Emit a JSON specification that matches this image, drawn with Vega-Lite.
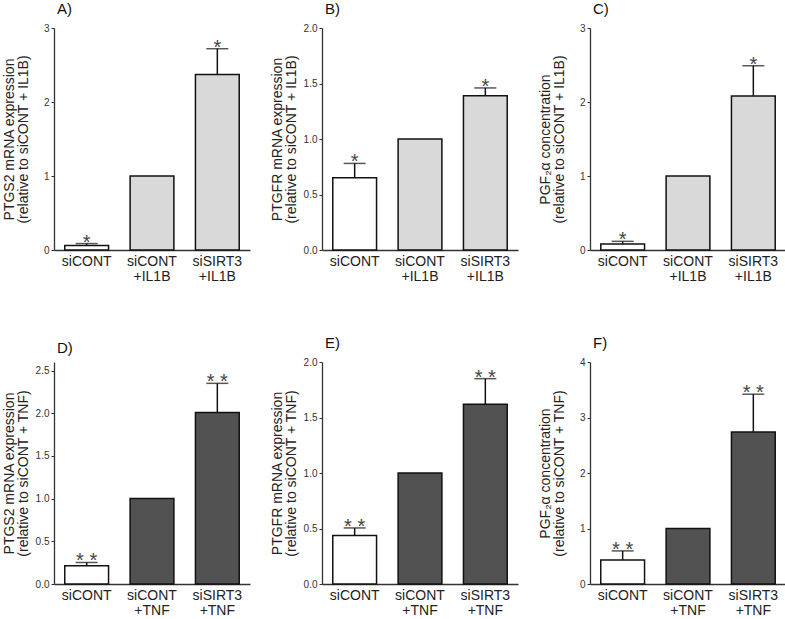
{
  "$schema": "https://vega.github.io/schema/vega-lite/v6.json",
  "padding": {"left": 1, "top": 2, "right": 0, "bottom": 0},
  "data": {"values": [
    {"panel": "A", "group": "siCONT", "cond": "ctrl", "value": 0.06, "err": 0.087, "star": "*"},
    {"panel": "A", "group": "siCONT|+IL1B", "cond": "IL1B", "value": 1.0, "err": null, "star": ""},
    {"panel": "A", "group": "siSIRT3|+IL1B", "cond": "IL1B", "value": 2.37, "err": 2.72, "star": "*"},
    {"panel": "B", "group": "siCONT", "cond": "ctrl", "value": 0.65, "err": 0.78, "star": "*"},
    {"panel": "B", "group": "siCONT|+IL1B", "cond": "IL1B", "value": 1.0, "err": null, "star": ""},
    {"panel": "B", "group": "siSIRT3|+IL1B", "cond": "IL1B", "value": 1.39, "err": 1.46, "star": "*"},
    {"panel": "C", "group": "siCONT", "cond": "ctrl", "value": 0.08, "err": 0.117, "star": "*"},
    {"panel": "C", "group": "siCONT|+IL1B", "cond": "IL1B", "value": 1.0, "err": null, "star": ""},
    {"panel": "C", "group": "siSIRT3|+IL1B", "cond": "IL1B", "value": 2.08, "err": 2.49, "star": "*"},
    {"panel": "D", "group": "siCONT", "cond": "ctrl", "value": 0.215, "err": 0.252, "star": "* *"},
    {"panel": "D", "group": "siCONT|+TNF", "cond": "TNF", "value": 1.0, "err": null, "star": ""},
    {"panel": "D", "group": "siSIRT3|+TNF", "cond": "TNF", "value": 2.01, "err": 2.35, "star": "* *"},
    {"panel": "E", "group": "siCONT", "cond": "ctrl", "value": 0.436, "err": 0.505, "star": "* *"},
    {"panel": "E", "group": "siCONT|+TNF", "cond": "TNF", "value": 1.0, "err": null, "star": ""},
    {"panel": "E", "group": "siSIRT3|+TNF", "cond": "TNF", "value": 1.62, "err": 1.85, "star": "* *"},
    {"panel": "F", "group": "siCONT", "cond": "ctrl", "value": 0.433, "err": 0.596, "star": "* *"},
    {"panel": "F", "group": "siCONT|+TNF", "cond": "TNF", "value": 1.0, "err": null, "star": ""},
    {"panel": "F", "group": "siSIRT3|+TNF", "cond": "TNF", "value": 2.74, "err": 3.42, "star": "* *"}
  ]},
  "columns": 3,
  "spacing": {"row": 53, "column": 19},
  "concat": [
    {
      "title": "A)", "width": 196, "height": 222,
      "transform": [{"filter": "datum.panel == 'A'"}],
      "encoding": {"x": {"field": "group", "type": "nominal", "sort": null, "title": null, "scale": {"paddingInner": 0.33, "paddingOuter": 0.165}, "axis": {"labelExpr": "split(datum.label, '|')", "labelFontSize": 14, "labelLineHeight": 15, "labelPadding": 4, "labelColor": "#222", "labelAngle": 0, "ticks": false}}},
      "layer": [
        {"mark": {"type": "bar", "stroke": "#111", "strokeWidth": 1.5},
         "encoding": {"y": {"field": "value", "type": "quantitative", "scale": {"domain": [0, 3]}, "axis": {"values": [0, 1, 2, 3], "format": "d"}, "title": ["PTGS2 mRNA expression", "(relative to siCONT + IL1B)"]},
           "fill": {"field": "cond", "type": "nominal", "scale": {"domain": ["ctrl", "IL1B", "TNF"], "range": ["#ffffff", "#d9d9d9", "#525252"]}, "legend": null}}},
        {"transform": [{"filter": "datum.err != null"}], "mark": {"type": "rule", "color": "#111", "strokeWidth": 1.5}, "encoding": {"y": {"field": "value", "type": "quantitative"}, "y2": {"field": "err"}}},
        {"transform": [{"filter": "datum.err != null"}], "mark": {"type": "tick", "color": "#111", "thickness": 1.5, "size": 22}, "encoding": {"y": {"field": "err", "type": "quantitative"}}},
        {"transform": [{"filter": "datum.err != null"}], "mark": {"type": "text", "fontSize": 20, "color": "#444", "baseline": "alphabetic", "dy": 5}, "encoding": {"y": {"field": "err", "type": "quantitative"}, "text": {"field": "star"}}}
      ]
    },
    {
      "title": "B)", "width": 196, "height": 222,
      "transform": [{"filter": "datum.panel == 'B'"}],
      "encoding": {"x": {"field": "group", "type": "nominal", "sort": null, "title": null, "scale": {"paddingInner": 0.33, "paddingOuter": 0.165}, "axis": {"labelExpr": "split(datum.label, '|')", "labelFontSize": 14, "labelLineHeight": 15, "labelPadding": 4, "labelColor": "#222", "labelAngle": 0, "ticks": false}}},
      "layer": [
        {"mark": {"type": "bar", "stroke": "#111", "strokeWidth": 1.5},
         "encoding": {"y": {"field": "value", "type": "quantitative", "scale": {"domain": [0, 2]}, "axis": {"values": [0, 0.5, 1, 1.5, 2], "format": ".1f"}, "title": ["PTGFR mRNA expression", "(relative to siCONT + IL1B)"]},
           "fill": {"field": "cond", "type": "nominal", "scale": {"domain": ["ctrl", "IL1B", "TNF"], "range": ["#ffffff", "#d9d9d9", "#525252"]}, "legend": null}}},
        {"transform": [{"filter": "datum.err != null"}], "mark": {"type": "rule", "color": "#111", "strokeWidth": 1.5}, "encoding": {"y": {"field": "value", "type": "quantitative"}, "y2": {"field": "err"}}},
        {"transform": [{"filter": "datum.err != null"}], "mark": {"type": "tick", "color": "#111", "thickness": 1.5, "size": 22}, "encoding": {"y": {"field": "err", "type": "quantitative"}}},
        {"transform": [{"filter": "datum.err != null"}], "mark": {"type": "text", "fontSize": 20, "color": "#444", "baseline": "alphabetic", "dy": 5}, "encoding": {"y": {"field": "err", "type": "quantitative"}, "text": {"field": "star"}}}
      ]
    },
    {
      "title": "C)", "width": 196, "height": 222,
      "transform": [{"filter": "datum.panel == 'C'"}],
      "encoding": {"x": {"field": "group", "type": "nominal", "sort": null, "title": null, "scale": {"paddingInner": 0.33, "paddingOuter": 0.165}, "axis": {"labelExpr": "split(datum.label, '|')", "labelFontSize": 14, "labelLineHeight": 15, "labelPadding": 4, "labelColor": "#222", "labelAngle": 0, "ticks": false}}},
      "layer": [
        {"mark": {"type": "bar", "stroke": "#111", "strokeWidth": 1.5},
         "encoding": {"y": {"field": "value", "type": "quantitative", "scale": {"domain": [0, 3]}, "axis": {"values": [0, 1, 2, 3], "format": "d"}, "title": ["PGF₂α concentration", "(relative to siCONT + IL1B)"]},
           "fill": {"field": "cond", "type": "nominal", "scale": {"domain": ["ctrl", "IL1B", "TNF"], "range": ["#ffffff", "#d9d9d9", "#525252"]}, "legend": null}}},
        {"transform": [{"filter": "datum.err != null"}], "mark": {"type": "rule", "color": "#111", "strokeWidth": 1.5}, "encoding": {"y": {"field": "value", "type": "quantitative"}, "y2": {"field": "err"}}},
        {"transform": [{"filter": "datum.err != null"}], "mark": {"type": "tick", "color": "#111", "thickness": 1.5, "size": 22}, "encoding": {"y": {"field": "err", "type": "quantitative"}}},
        {"transform": [{"filter": "datum.err != null"}], "mark": {"type": "text", "fontSize": 20, "color": "#444", "baseline": "alphabetic", "dy": 5}, "encoding": {"y": {"field": "err", "type": "quantitative"}, "text": {"field": "star"}}}
      ]
    },
    {
      "title": "D)", "width": 196, "height": 222,
      "transform": [{"filter": "datum.panel == 'D'"}],
      "encoding": {"x": {"field": "group", "type": "nominal", "sort": null, "title": null, "scale": {"paddingInner": 0.33, "paddingOuter": 0.165}, "axis": {"labelExpr": "split(datum.label, '|')", "labelFontSize": 14, "labelLineHeight": 15, "labelPadding": 4, "labelColor": "#222", "labelAngle": 0, "ticks": false}}},
      "layer": [
        {"mark": {"type": "bar", "stroke": "#111", "strokeWidth": 1.5},
         "encoding": {"y": {"field": "value", "type": "quantitative", "scale": {"domain": [0, 2.5]}, "axis": {"values": [0, 0.5, 1, 1.5, 2, 2.5], "format": ".1f"}, "title": ["PTGS2 mRNA expression", "(relative to siCONT + TNF)"]},
           "fill": {"field": "cond", "type": "nominal", "scale": {"domain": ["ctrl", "IL1B", "TNF"], "range": ["#ffffff", "#d9d9d9", "#525252"]}, "legend": null}}},
        {"transform": [{"filter": "datum.err != null"}], "mark": {"type": "rule", "color": "#111", "strokeWidth": 1.5}, "encoding": {"y": {"field": "value", "type": "quantitative"}, "y2": {"field": "err"}}},
        {"transform": [{"filter": "datum.err != null"}], "mark": {"type": "tick", "color": "#111", "thickness": 1.5, "size": 22}, "encoding": {"y": {"field": "err", "type": "quantitative"}}},
        {"transform": [{"filter": "datum.err != null"}], "mark": {"type": "text", "fontSize": 20, "color": "#444", "baseline": "alphabetic", "dy": 5}, "encoding": {"y": {"field": "err", "type": "quantitative"}, "text": {"field": "star"}}}
      ]
    },
    {
      "title": "E)", "width": 196, "height": 222,
      "transform": [{"filter": "datum.panel == 'E'"}],
      "encoding": {"x": {"field": "group", "type": "nominal", "sort": null, "title": null, "scale": {"paddingInner": 0.33, "paddingOuter": 0.165}, "axis": {"labelExpr": "split(datum.label, '|')", "labelFontSize": 14, "labelLineHeight": 15, "labelPadding": 4, "labelColor": "#222", "labelAngle": 0, "ticks": false}}},
      "layer": [
        {"mark": {"type": "bar", "stroke": "#111", "strokeWidth": 1.5},
         "encoding": {"y": {"field": "value", "type": "quantitative", "scale": {"domain": [0, 2]}, "axis": {"values": [0, 0.5, 1, 1.5, 2], "format": ".1f"}, "title": ["PTGFR mRNA expression", "(relative to siCONT + TNF)"]},
           "fill": {"field": "cond", "type": "nominal", "scale": {"domain": ["ctrl", "IL1B", "TNF"], "range": ["#ffffff", "#d9d9d9", "#525252"]}, "legend": null}}},
        {"transform": [{"filter": "datum.err != null"}], "mark": {"type": "rule", "color": "#111", "strokeWidth": 1.5}, "encoding": {"y": {"field": "value", "type": "quantitative"}, "y2": {"field": "err"}}},
        {"transform": [{"filter": "datum.err != null"}], "mark": {"type": "tick", "color": "#111", "thickness": 1.5, "size": 22}, "encoding": {"y": {"field": "err", "type": "quantitative"}}},
        {"transform": [{"filter": "datum.err != null"}], "mark": {"type": "text", "fontSize": 20, "color": "#444", "baseline": "alphabetic", "dy": 5}, "encoding": {"y": {"field": "err", "type": "quantitative"}, "text": {"field": "star"}}}
      ]
    },
    {
      "title": "F)", "width": 196, "height": 222,
      "transform": [{"filter": "datum.panel == 'F'"}],
      "encoding": {"x": {"field": "group", "type": "nominal", "sort": null, "title": null, "scale": {"paddingInner": 0.33, "paddingOuter": 0.165}, "axis": {"labelExpr": "split(datum.label, '|')", "labelFontSize": 14, "labelLineHeight": 15, "labelPadding": 4, "labelColor": "#222", "labelAngle": 0, "ticks": false}}},
      "layer": [
        {"mark": {"type": "bar", "stroke": "#111", "strokeWidth": 1.5},
         "encoding": {"y": {"field": "value", "type": "quantitative", "scale": {"domain": [0, 4]}, "axis": {"values": [0, 1, 2, 3, 4], "format": "d"}, "title": ["PGF₂α concentration", "(relative to siCONT + TNF)"]},
           "fill": {"field": "cond", "type": "nominal", "scale": {"domain": ["ctrl", "IL1B", "TNF"], "range": ["#ffffff", "#d9d9d9", "#525252"]}, "legend": null}}},
        {"transform": [{"filter": "datum.err != null"}], "mark": {"type": "rule", "color": "#111", "strokeWidth": 1.5}, "encoding": {"y": {"field": "value", "type": "quantitative"}, "y2": {"field": "err"}}},
        {"transform": [{"filter": "datum.err != null"}], "mark": {"type": "tick", "color": "#111", "thickness": 1.5, "size": 22}, "encoding": {"y": {"field": "err", "type": "quantitative"}}},
        {"transform": [{"filter": "datum.err != null"}], "mark": {"type": "text", "fontSize": 20, "color": "#444", "baseline": "alphabetic", "dy": 5}, "encoding": {"y": {"field": "err", "type": "quantitative"}, "text": {"field": "star"}}}
      ]
    }
  ],
  "config": {
    "font": "Liberation Sans",
    "view": {"stroke": null},
    "axis": {"domainColor": "#333", "domainWidth": 1.3, "tickColor": "#333", "grid": false, "labelFont": "Liberation Sans", "titleFont": "Liberation Sans", "titleFontWeight": "normal"},
    "axisY": {"tickSize": 3, "labelFontSize": 10, "labelColor": "#333", "labelPadding": 2, "titleFontSize": 14, "titleColor": "#222", "titleX": -38, "titleY": 111, "titleAngle": -90, "titleBaseline": "bottom", "titleLineHeight": 14},
    "title": {"anchor": "start", "frame": "group", "fontSize": 15, "fontWeight": "normal", "font": "Liberation Sans", "color": "#111", "offset": 6, "dx": 3}
  }
}
